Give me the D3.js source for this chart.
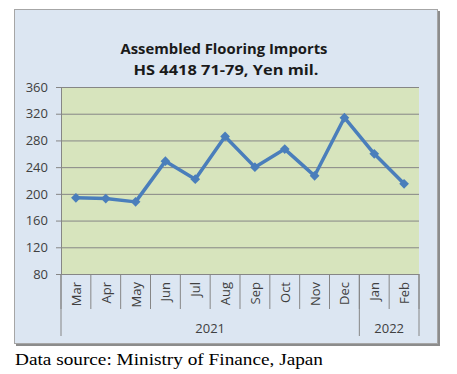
<!DOCTYPE html>
<meta charset="utf-8">
<title>Assembled Flooring Imports</title>
<style>
    body { margin: 0; background: #fff; }
    text { font-family: "Open Sans", "Liberation Sans", sans-serif; }
</style>
<script src="https://d3js.org/d3.v7.js"></script>
<body>
<script>
    // data
    const months = ["Mar", "Apr", "May", "Jun", "Jul", "Aug", "Sep", "Oct", "Nov", "Dec", "Jan", "Feb"];
    const values = [194, 193, 188, 249, 222, 286, 240, 267, 227, 314, 260, 215];
    const years = ["2021", "2022"];
    const yearSpans = [10, 2];
    const yTicks = [80, 120, 160, 200, 240, 280, 320, 360];

    const W = 457, H = 374;
    const plot = { left: 61, right: 419, top: 87, bottom: 274 };

    const svg = d3.select("body").append("svg")
        .attr("width", W)
        .attr("height", H);

    // outer chart box
    svg.append("rect")
        .attr("x", 16).attr("y", 11)
        .attr("width", 424).attr("height", 335)
        .attr("fill", "#8c8c8c");
    svg.append("rect")
        .attr("x", 14.5).attr("y", 9.5)
        .attr("width", 423).attr("height", 334)
        .attr("fill", "#dce6f2")
        .attr("stroke", "#a6a6a6");

    // title
    const title = svg.append("text")
        .attr("text-anchor", "middle")
        .style("font-weight", "bold")
        .style("font-size", "15px")
        .attr("fill", "#1a1a1a");
    title.append("tspan").attr("x", 224).attr("y", 54)
        .attr("textLength", 207).attr("lengthAdjust", "spacingAndGlyphs")
        .text("Assembled Flooring Imports");
    title.append("tspan").attr("x", 226).attr("y", 75)
        .attr("textLength", 185).attr("lengthAdjust", "spacingAndGlyphs")
        .text("HS 4418 71-79, Yen mil.");

    const x = d3.scaleBand()
        .domain(months)
        .range([plot.left, plot.right]);

    const y = d3.scaleLinear()
        .domain([80, 360])
        .range([plot.bottom, plot.top]);

    // plot background
    svg.append("rect")
        .attr("x", plot.left).attr("y", plot.top)
        .attr("width", plot.right - plot.left)
        .attr("height", plot.bottom - plot.top)
        .attr("fill", "#d7e4bd");

    // y axis with gridlines
    const yAxis = svg.append("g")
        .attr("transform", `translate(${plot.left},0)`)
        .call(d3.axisLeft(y).tickValues(yTicks).tickSize(5).tickPadding(8));
    yAxis.select(".domain").attr("stroke", "#868686");
    yAxis.selectAll(".tick line").attr("stroke", "#868686");
    yAxis.selectAll(".tick text")
        .attr("fill", "#404040")
        .style("font-size", "13px")
        .style("font-family", "'Open Sans', sans-serif");
    yAxis.selectAll(".tick").append("line")
        .attr("x1", 0).attr("x2", plot.right - plot.left)
        .attr("stroke", "#868686");

    // x axis: month separators
    const bounds = d3.range(months.length + 1).map(i => plot.left + i * x.bandwidth());
    svg.selectAll(".msep")
        .data(bounds)
        .join("line")
        .attr("x1", d => d).attr("x2", d => d)
        .attr("y1", plot.bottom).attr("y2", plot.bottom + 35)
        .attr("stroke", "#868686");

    svg.selectAll(".mlab")
        .data(months)
        .join("text")
        .attr("transform", d => `translate(${x(d) + x.bandwidth() / 2 + 5},${plot.bottom + 8}) rotate(-90)`)
        .attr("text-anchor", "end")
        .attr("fill", "#404040")
        .style("font-size", "13px")
        .text(d => d);

    // year groups
    let acc = 0;
    const yearPos = yearSpans.map(n => { const s = acc; acc += n; return [s, acc]; });
    const yearBounds = [0].concat(yearPos.map(p => p[1]));
    svg.selectAll(".ysep")
        .data(yearBounds)
        .join("line")
        .attr("x1", d => bounds[d]).attr("x2", d => bounds[d])
        .attr("y1", plot.bottom).attr("y2", plot.bottom + 62)
        .attr("stroke", "#868686");
    svg.selectAll(".ylab")
        .data(years)
        .join("text")
        .attr("x", (d, i) => (bounds[yearPos[i][0]] + bounds[yearPos[i][1]]) / 2)
        .attr("y", plot.bottom + 59)
        .attr("text-anchor", "middle")
        .attr("fill", "#404040")
        .style("font-size", "13px")
        .text(d => d);

    // series line
    const line = d3.line()
        .x((d, i) => x(months[i]) + x.bandwidth() / 2)
        .y(d => y(d));
    svg.append("path")
        .datum(values)
        .attr("d", line)
        .attr("fill", "none")
        .attr("stroke", "#4a7ebb")
        .attr("stroke-width", 3.5)
        .attr("stroke-linejoin", "round");

    svg.selectAll(".pt")
        .data(values)
        .join("path")
        .attr("d", d3.symbol(d3.symbolDiamond2, 60))
        .attr("transform", (d, i) => `translate(${x(months[i]) + x.bandwidth() / 2},${y(d)})`)
        .attr("fill", "#4a7ebb");

    // source note
    svg.append("text")
        .attr("x", 15)
        .attr("y", 365)
        .style("font-family", "'Liberation Serif', serif")
        .style("font-size", "17px")
        .attr("textLength", 308)
        .attr("lengthAdjust", "spacingAndGlyphs")
        .attr("fill", "#000")
        .text("Data source: Ministry of Finance, Japan");
</script>
</body>
